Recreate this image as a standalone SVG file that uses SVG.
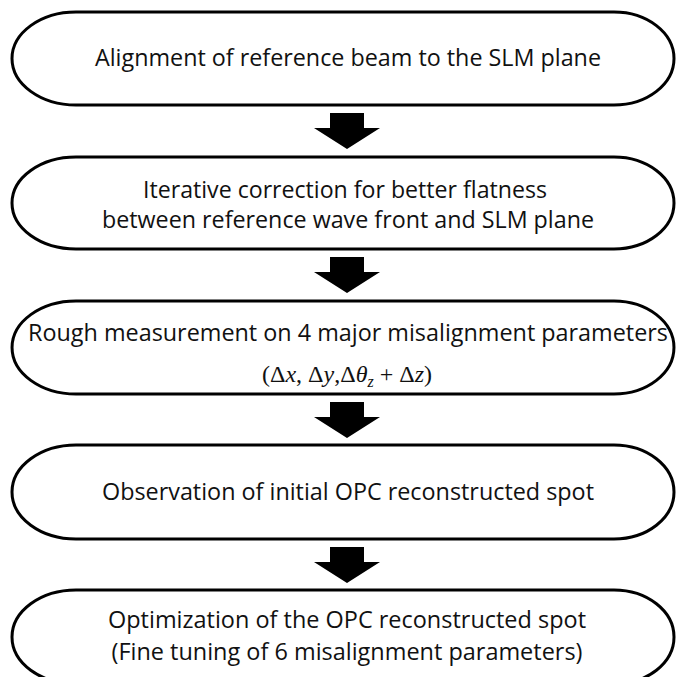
<svg xmlns="http://www.w3.org/2000/svg" width="676" height="677" viewBox="0 0 676 677">
  <style>
    .box { fill: #ffffff; stroke: #000000; stroke-width: 3; }
    .label { font-family: "Open Sans", "Noto Sans", "Liberation Sans", sans-serif; font-size: 23px; fill: #111111; text-anchor: middle; }
    .math { font-family: "Liberation Serif", "DejaVu Serif", serif; font-size: 24px; fill: #111111; text-anchor: middle; }
    .var { font-style: italic; }
    .arrow { fill: #000000; }
  </style>
  <defs>
    <!-- one down-pointing block arrow; placed with translate -->
    <path id="blockArrow" d="M330,0 H364 V15 H380 L347,36 L314,15 H330 Z"/>
  </defs>

  <rect width="676" height="677" fill="#ffffff"/>

  <g id="connectors">
    <use href="#blockArrow" class="arrow" transform="translate(0,113)"/>
    <use href="#blockArrow" class="arrow" transform="translate(0,257)"/>
    <use href="#blockArrow" class="arrow" transform="translate(0,402)"/>
    <use href="#blockArrow" class="arrow" transform="translate(0,547)"/>
  </g>

  <g id="step1">
    <path class="box" d="M76,12 H614 A60,46.5 0 0 1 614,105 H76 A64,46.5 0 0 1 76,12 Z"/>
    <text class="label" x="348" y="66" textLength="506" lengthAdjust="spacingAndGlyphs">Alignment of reference beam to the SLM plane</text>
  </g>

  <g id="step2">
    <path class="box" d="M76,157 H614 A60,46 0 0 1 614,249 H76 A64,46 0 0 1 76,157 Z"/>
    <text class="label" x="345" y="198" textLength="404" lengthAdjust="spacingAndGlyphs">Iterative correction for better flatness</text>
    <text class="label" x="348" y="228" textLength="492" lengthAdjust="spacingAndGlyphs">between reference wave front and SLM plane</text>
  </g>

  <g id="step3">
    <path class="box" d="M76,301 H614 A60,46.5 0 0 1 614,394 H76 A64,46.5 0 0 1 76,301 Z"/>
    <text class="label" x="348" y="341" textLength="640" lengthAdjust="spacingAndGlyphs">Rough measurement on 4 major misalignment parameters</text>
    <text class="math" x="347" y="382">(Δ<tspan class="var">x</tspan>, Δ<tspan class="var">y</tspan>,Δ<tspan class="var">θ</tspan><tspan class="var" font-size="16" dy="5">z</tspan><tspan dy="-5"> + Δ</tspan><tspan class="var">z</tspan>)</text>
  </g>

  <g id="step4">
    <path class="box" d="M76,445 H614 A60,47 0 0 1 614,539 H76 A64,47 0 0 1 76,445 Z"/>
    <text class="label" x="348" y="500" textLength="492" lengthAdjust="spacingAndGlyphs">Observation of initial OPC reconstructed spot</text>
  </g>

  <g id="step5">
    <path class="box" d="M76,590 H614 A60,47 0 0 1 614,684 H76 A64,47 0 0 1 76,590 Z"/>
    <text class="label" x="347" y="628" textLength="478" lengthAdjust="spacingAndGlyphs">Optimization of the OPC reconstructed spot</text>
    <text class="label" x="347" y="660" textLength="471" lengthAdjust="spacingAndGlyphs">(Fine tuning of 6 misalignment parameters)</text>
  </g>
</svg>
